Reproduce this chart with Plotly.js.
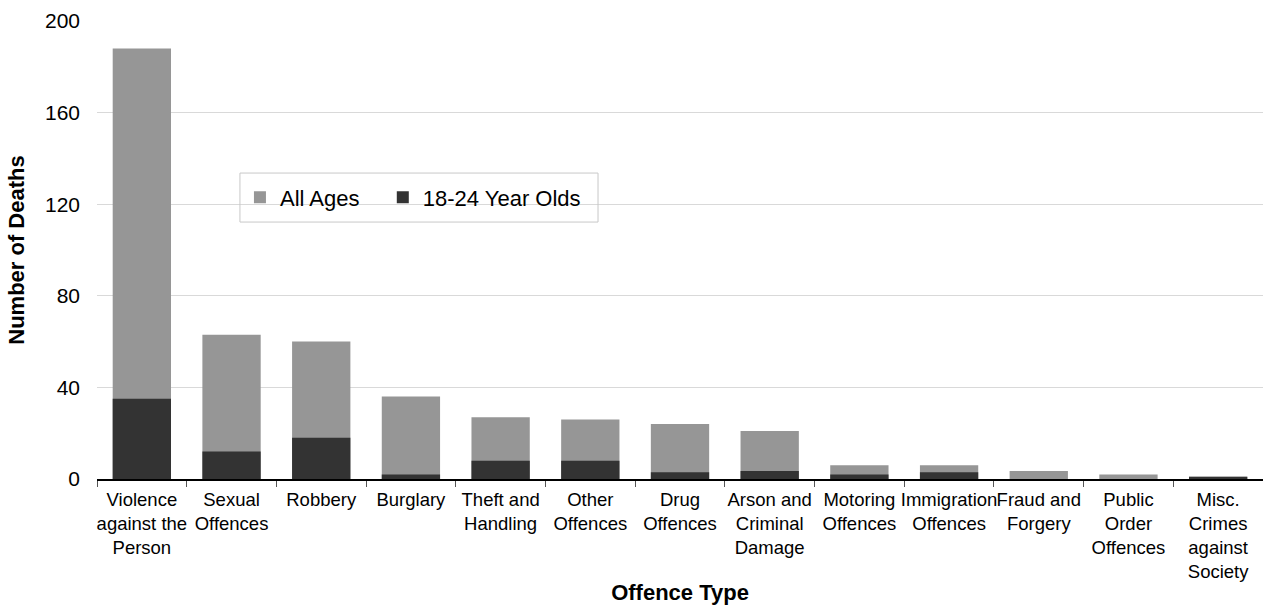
<!DOCTYPE html>
<html>
<head>
<meta charset="utf-8">
<script src="https://cdn.plot.ly/plotly-3.0.1.min.js"></script>
<style>
  html, body { margin: 0; padding: 0; background: #fff; }
  #chart { width: 1263px; height: 605px; }
</style>
</head>
<body>
<div id="chart"></div>
<script>
const categories = [
  "Violence<br>against the<br>Person",
  "Sexual<br>Offences",
  "Robbery",
  "Burglary",
  "Theft and<br>Handling",
  "Other<br>Offences",
  "Drug<br>Offences",
  "Arson and<br>Criminal<br>Damage",
  "Motoring<br>Offences",
  "Immigration<br>Offences",
  "Fraud and<br>Forgery",
  "Public<br>Order<br>Offences",
  "Misc.<br>Crimes<br>against<br>Society"
];
const allAges = [188, 63, 60, 36, 27, 26, 24, 21, 6, 6, 3.5, 2, 1];
const youngAdults = [35, 12, 18, 2, 8, 8, 3, 3.5, 2, 3, 0, 0, 1];
const seriesNames = ["All Ages", "18-24 Year Olds"];
const yTicks = [0, 40, 80, 120, 160, 200];

const FONT = "Liberation Sans, Arial, Helvetica, sans-serif";
const PAD = "\u00a0\u00a0\u00a0";

const traces = [
  {
    type: "bar",
    name: seriesNames[0] + PAD,
    x: categories,
    y: allAges,
    marker: { color: "#969696", line: { width: 0 } },
    hoverinfo: "x+y"
  },
  {
    type: "bar",
    name: seriesNames[1],
    x: categories,
    y: youngAdults,
    marker: { color: "#333333", line: { width: 0 } },
    hoverinfo: "x+y"
  }
];

const layout = {
  width: 1263,
  height: 605,
  margin: { l: 97, r: 0, t: 21, b: 126 },
  paper_bgcolor: "#ffffff",
  plot_bgcolor: "#ffffff",
  barmode: "overlay",
  bargap: 0.35,
  font: { family: FONT, color: "#000000", size: 18 },
  showlegend: true,
  legend: {
    orientation: "h",
    x: 0.1226,
    y: 0.6146,
    xanchor: "left",
    yanchor: "middle",
    bgcolor: "rgba(0,0,0,0)",
    borderwidth: 0,
    font: { family: FONT, size: 22, color: "#000000" },
    traceorder: "normal"
  },
  shapes: [
    {
      type: "rect",
      xref: "paper", yref: "paper",
      x0: 0.1226, x1: 0.4297, y0: 0.561, y1: 0.668,
      fillcolor: "rgba(0,0,0,0)",
      line: { color: "#c8c8c8", width: 1 },
      layer: "above"
    }
  ],
  xaxis: {
    type: "category",
    tickson: "boundaries",
    ticks: "outside",
    ticklen: 6,
    tickcolor: "#555555",
    tickwidth: 1,
    showline: true,
    linecolor: "#000000",
    linewidth: 1.5,
    showgrid: false,
    zeroline: false,
    tickangle: 0,
    ticklabelstandoff: 3,
    tickfont: { family: FONT, size: 18.5, color: "#000000" },
    automargin: false,
    title: {
      text: "<b>Offence Type</b>",
      font: { family: FONT, size: 22, color: "#000000" },
      standoff: 10
    }
  },
  yaxis: {
    range: [0, 200],
    tickvals: yTicks,
    ticktext: yTicks.map(String),
    showgrid: true,
    gridcolor: "#d9d9d9",
    gridwidth: 1,
    showline: false,
    zeroline: false,
    ticks: "",
    ticklabelstandoff: 16,
    tickfont: { family: FONT, size: 21, color: "#000000" },
    automargin: true,
    title: {
      text: "<b>Number of Deaths</b>",
      font: { family: FONT, size: 22, color: "#000000" },
      standoff: 14
    }
  }
};

Plotly.newPlot("chart", traces, layout, { displayModeBar: false, staticPlot: true });
</script>
</body>
</html>
